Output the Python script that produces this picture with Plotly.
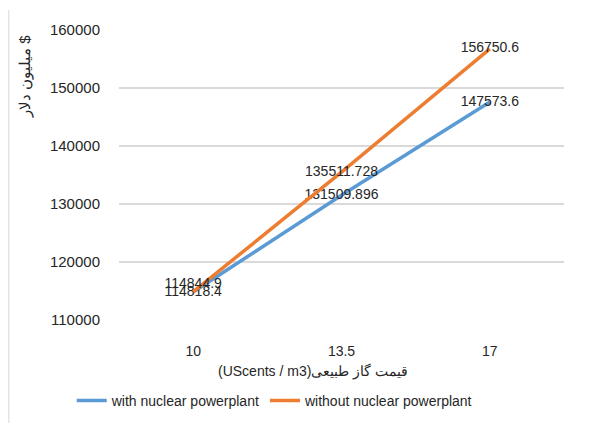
import plotly.graph_objects as go

categories = ["10", "13.5", "17"]
with_nuclear = [114818.4, 131509.896, 147573.6]
without_nuclear = [114844.9, 135511.728, 156750.6]
with_labels = ["114818.4", "131509.896", "147573.6"]
without_labels = ["114844.9", "135511.728", "156750.6"]
y_ticks = [110000, 120000, 130000, 140000, 150000, 160000]

BLUE = "#5B9BD5"
ORANGE = "#ED7D31"
FONT = "Liberation Sans"
TXT = "#262626"

fig = go.Figure()
fig.add_trace(go.Scatter(
    x=categories, y=with_nuclear, mode="lines+text", name="with nuclear powerplant",
    line=dict(color=BLUE, width=3.5), text=with_labels,
    textposition=["middle center", "middle center", "middle center"],
    textfont=dict(family=FONT, size=14, color=TXT),
))
fig.add_trace(go.Scatter(
    x=categories, y=without_nuclear, mode="lines+text", name="without nuclear powerplant",
    line=dict(color=ORANGE, width=3.5), text=without_labels,
    textposition=["top center", "middle center", "middle center"],
    textfont=dict(family=FONT, size=14, color=TXT),
))

fig.update_layout(
    width=603, height=423,
    margin=dict(l=111, r=47, t=22, b=111, autoexpand=False),
    paper_bgcolor="white", plot_bgcolor="white",
    font=dict(family=FONT, size=14, color=TXT),
    showlegend=True,
    legend=dict(orientation="h", x=0.35, xanchor="center", y=-0.224, yanchor="top",
                font=dict(family=FONT, size=14, color=TXT)),
    xaxis=dict(type="category", range=[-0.5, 2.5], showgrid=False, showline=False,
               zeroline=False, ticks="", tickfont=dict(size=14), ticklabelstandoff=21,
               automargin=False),
    yaxis=dict(range=[110000, 160000], tickvals=y_ticks, showgrid=True,
               gridcolor="#D9D9D9", gridwidth=1.5, zeroline=False, showline=False,
               ticks="", tickfont=dict(size=15), ticklabelstandoff=18, tickformat="d",
               automargin=False),
    annotations=[
        dict(text="(UScents / m3)قیمت گاز طبیعی", xref="paper", yref="paper",
             x=0.436, y=-0.179, xanchor="center", yanchor="middle",
             showarrow=False, font=dict(size=14, family=FONT, color=TXT)),
        dict(text="میلیون دلار $", xref="paper", yref="paper",
             x=-0.211, y=0.838, xanchor="center", yanchor="middle", textangle=-90,
             showarrow=False, font=dict(size=15, family=FONT, color=TXT)),
    ],
    shapes=[
        dict(type="line", xref="paper", yref="paper", x0=-0.248, x1=-0.248,
             y0=-0.5, y1=1.069, line=dict(color="#E3E3E3", width=1.5)),
        dict(type="line", xref="paper", yref="paper", x0=1.081, x1=1.081,
             y0=-0.5, y1=1.069, line=dict(color="#E3E3E3", width=1.5)),
    ],
)
fig.write_html("out.html")
